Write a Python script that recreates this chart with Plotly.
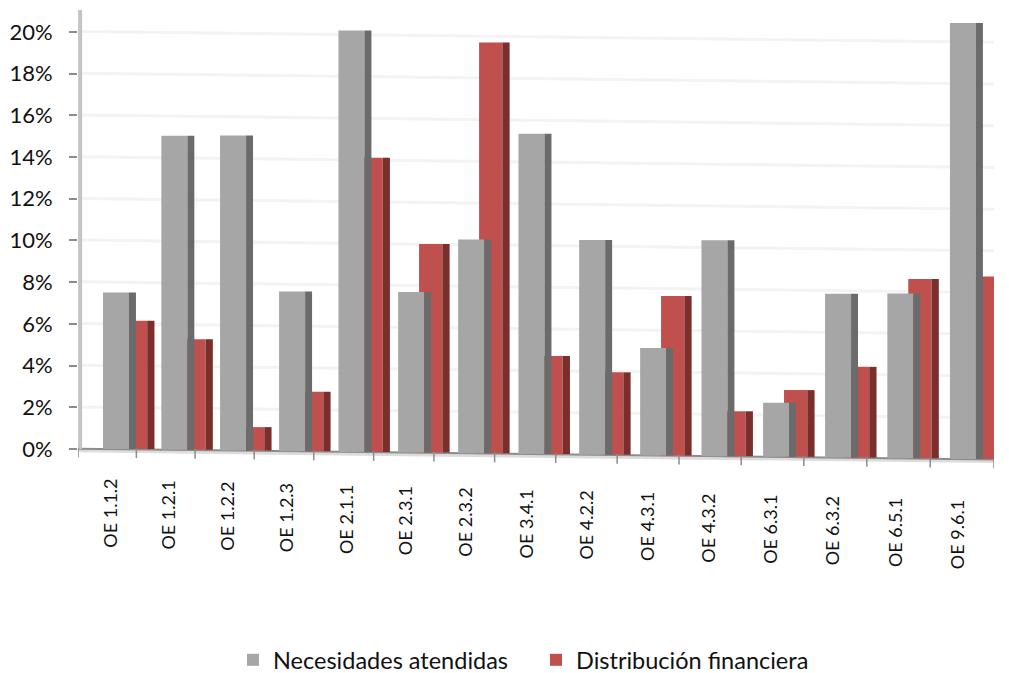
import plotly.graph_objects as go

categories = ["OE 1.1.2", "OE 1.2.1", "OE 1.2.2", "OE 1.2.3", "OE 2.1.1", "OE 2.3.1", "OE 2.3.2", "OE 3.4.1",
              "OE 4.2.2", "OE 4.3.1", "OE 4.3.2", "OE 6.3.1", "OE 6.3.2", "OE 6.5.1", "OE 9.6.1"]
necesidades = [7.5, 15.05, 15.1, 7.65, 20.2, 7.7, 10.25, 15.35, 10.3, 5.15, 10.35, 2.6, 7.85, 7.9, 20.9]
distribucion = [6.15, 5.3, 1.12, 2.85, 14.1, 10.0, 19.7, 4.7, 3.95, 7.65, 2.15, 3.2, 4.35, 8.6, 8.75]
y_ticks = list(range(0, 21, 2))

TILT = 0.034          # apparent floor drop per category, in value units
X0, X1 = -0.529, 14.612
Y0, Y1 = -1.1, 21.05
GRAY, GRAY_SIDE = "#a6a6a6", "#6b6b6b"
RED, RED_SIDE = "#c0504d", "#7b2f2d"
FONT = "Lato, Carlito, 'Open Sans', sans-serif"

n = len(categories)
idx = list(range(n))
# slight foreshortening of the 3-D view: categories bunch up towards the middle
persp = lambda i, depth=0.132: i - depth * (1 - ((i - (n - 1) / 2) / ((n - 1) / 2)) ** 2)
xpos = [persp(i) for i in idx]
base = [-TILT * i for i in idx]
floor = lambda x: -TILT * x

fig = go.Figure()


def add_series(vals, name, front, side, start, w_front, w_side):
    fig.add_bar(x=xpos, y=vals, base=base, name=name, marker_color=front, marker_line_width=0,
                width=w_front, offset=start, showlegend=True, hoverinfo="skip")
    fig.add_bar(x=xpos, y=vals, base=base, marker_color=side, marker_line_width=0,
                width=w_side, offset=start + w_front, showlegend=False, hoverinfo="skip")


add_series(distribucion, "Distribución financiera", RED, RED_SIDE, 0.23, 0.385, 0.12)
add_series(necesidades, "Necesidades atendidas", GRAY, GRAY_SIDE, -0.116, 0.43, 0.115)
fig.data[0].legendrank = 2
fig.data[2].legendrank = 1

shapes = []
for t in y_ticks[1:]:
    shapes.append(dict(type="line", layer="below", xref="x", yref="y", x0=X0 + 0.05, x1=X1,
                       y0=t + floor(X0), y1=t + floor(X1), line=dict(color="#f3f3f3", width=3)))
# floor band, floor axis and side wall
shapes.append(dict(type="line", layer="below", xref="x", yref="y", x0=X0, x1=X1,
                   y0=floor(X0) - 0.08, y1=floor(X1) - 0.08, line=dict(color="#dcdcdc", width=4)))
shapes.append(dict(type="line", layer="below", xref="x", yref="y", x0=X0, x1=X1,
                   y0=floor(X0), y1=floor(X1), line=dict(color="#8c8c8c", width=2)))
shapes.append(dict(type="line", layer="below", xref="x", yref="y", x0=X0 + 0.035, x1=X0 + 0.035,
                   y0=0, y1=Y1, line=dict(color="#c4c4c4", width=4)))
# floor ticks between categories
for k in range(16):
    t = X0 + k * (X1 - X0) / 15 - 0.18 * (1 - ((k - 7.5) / 7.5) ** 2)
    shapes.append(dict(type="line", layer="above", xref="x", yref="y", x0=t, x1=t,
                       y0=floor(t) + 0.05, y1=floor(t) - 0.42, line=dict(color="#8c8c8c", width=1.5)))
fig.update_layout(shapes=shapes)

LABEL_DROP = 0.07
to_paper = lambda v: (v - Y0) / (Y1 - Y0)
annotations = [dict(x=xpos[i], y=to_paper(-1.35 - LABEL_DROP * i), xref="x", yref="paper", text=c, showarrow=False,
                    textangle=-90, xanchor="center", yanchor="top",
                    font=dict(family=FONT, size=18, color="#111111")) for i, c in zip(idx, categories)]

fig.update_layout(
    width=1001, height=665, barmode="overlay", plot_bgcolor="white", paper_bgcolor="white",
    margin=dict(l=70, r=15, t=2, b=201, autoexpand=False),
    annotations=annotations,
    xaxis=dict(range=[X0, X1], showgrid=False, zeroline=False, showline=False, showticklabels=False, ticks=""),
    yaxis=dict(range=[Y0, Y1], tickvals=y_ticks, ticktext=[f"{t}%" for t in y_ticks], showgrid=False,
               zeroline=False, showline=False, ticks="outside", ticklen=8, tickwidth=1.5, tickcolor="#8c8c8c",
               ticklabelstandoff=12, tickfont=dict(family=FONT, size=22, color="#111111")),
    legend=dict(orientation="h", x=0.5, xanchor="center", xref="paper", y=-0.407, yanchor="middle",
                font=dict(family=FONT, size=23.5, color="#111111"), bgcolor="rgba(0,0,0,0)", traceorder="normal",
                entrywidth=258, entrywidthmode="pixels", itemwidth=30),
)

fig.write_html("out.html")
